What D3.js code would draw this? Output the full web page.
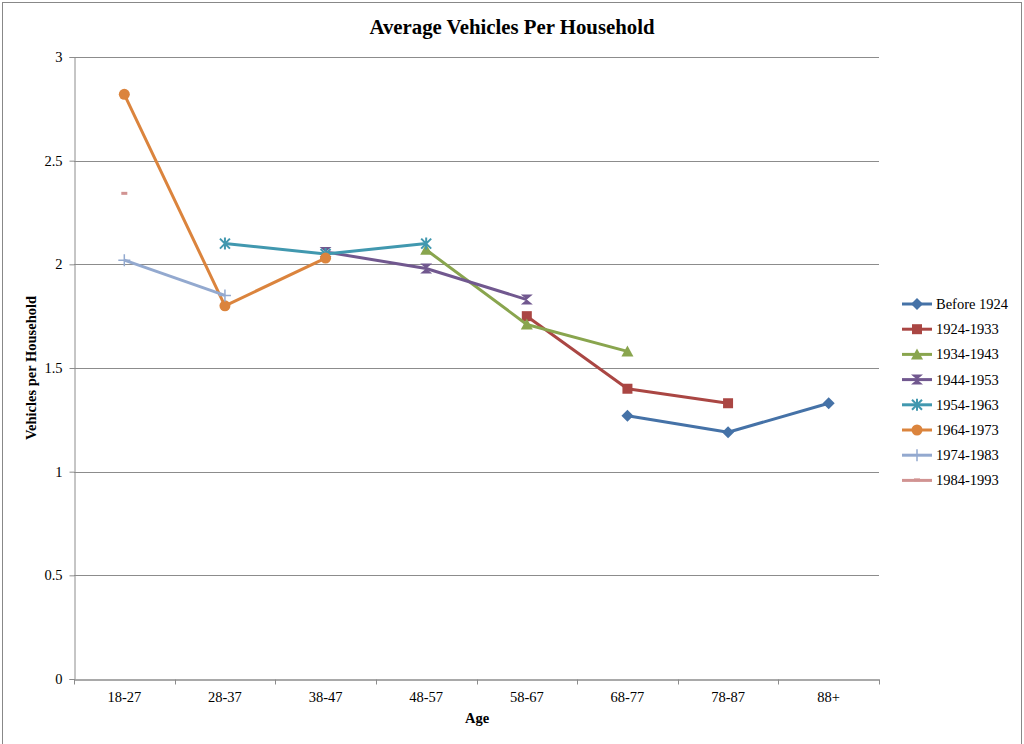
<!DOCTYPE html>
<html>
<head>
<meta charset="utf-8">
<script src="https://cdn.jsdelivr.net/npm/d3@7"></script>
<style>
  body { margin: 0; background: #fff; }
  svg { display: block; font-family: 'Liberation Serif', 'Times New Roman', serif; }
</style>
</head>
<body>
<svg id="chart" width="1024" height="744"></svg>
<script>
const ages = ['18-27', '28-37', '38-47', '48-57', '58-67', '68-77', '78-87', '88+'];
const cohorts = ['Before 1924', '1924-1933', '1934-1943', '1944-1953', '1954-1963', '1964-1973', '1974-1983', '1984-1993'];

// values per cohort, null where the cohort has no data at that age
const before1924 = [null, null, null, null, null, 1.27, 1.19, 1.33];
const c1924 = [null, null, null, null, 1.75, 1.40, 1.33, null];
const c1934 = [null, null, null, 2.07, 1.71, 1.58, null, null];
const c1944 = [null, null, 2.06, 1.98, 1.83, null, null, null];
const c1954 = [null, 2.10, 2.05, 2.10, null, null, null, null];
const c1964 = [2.82, 1.80, 2.03, null, null, null, null, null];
const c1974 = [2.02, 1.85, null, null, null, null, null, null];
const c1984 = [2.34, null, null, null, null, null, null, null];

const yTicks = [0, 0.5, 1, 1.5, 2, 2.5, 3];

const seriesValues = [before1924, c1924, c1934, c1944, c1954, c1964, c1974, c1984];
const colors = ['#4572A7', '#AA4643', '#89A54E', '#71588F', '#4198AF', '#DB843D', '#93A9CF', '#D19392'];
const markers = ['diamond', 'square', 'triangle', 'hourglass', 'star', 'circle', 'plus', 'dash'];

const margin = { left: 74, right: 145, top: 57, bottom: 65 };
const width = 1024, height = 744;
const fontSize = '14.5px';

const svg = d3.select('#chart');

// outer chart border
svg.append('rect')
    .attr('x', 2.5).attr('y', 2.5)
    .attr('width', 1019).attr('height', 760)
    .attr('fill', 'none')
    .attr('stroke', '#888');

const xScale = d3.scaleBand()
    .domain(ages)
    .range([margin.left, width - margin.right]);

const yScale = d3.scaleLinear()
    .domain([0, 3])
    .range([height - margin.bottom, margin.top]);

// gridlines
svg.append('g')
    .selectAll('line')
    .data(yTicks.filter(d => d > 0))
    .join('line')
    .attr('x1', margin.left)
    .attr('x2', width - margin.right)
    .attr('y1', d => Math.round(yScale(d)) + 0.5)
    .attr('y2', d => Math.round(yScale(d)) + 0.5)
    .attr('stroke', '#8c8c8c')
    .attr('stroke-width', 1);

// y axis
const yAxis = svg.append('g')
    .attr('transform', `translate(${margin.left + 0.5}, 0)`)
    .call(d3.axisLeft(yScale).tickValues(yTicks).tickFormat(d3.format('')).tickSize(5).tickPadding(7));
yAxis.selectAll('line, path').attr('stroke', '#8c8c8c');
yAxis.selectAll('text').style('font-size', fontSize).style('font-family', 'Liberation Serif').attr('fill', '#000');

// x axis with ticks on category boundaries
const xAxis = svg.append('g')
    .attr('transform', `translate(0, ${Math.round(yScale(0)) + 0.5})`)
    .call(d3.axisBottom(xScale).tickSize(0).tickPadding(12));
xAxis.select('.domain').attr('stroke', '#8c8c8c').attr('stroke-width', 1.5);
xAxis.selectAll('text').style('font-size', fontSize).style('font-family', 'Liberation Serif').attr('fill', '#000');
xAxis.append('g')
    .selectAll('line')
    .data(ages.map(a => xScale(a)).concat([width - margin.right]))
    .join('line')
    .attr('x1', d => Math.round(d) + 0.5)
    .attr('x2', d => Math.round(d) + 0.5)
    .attr('y1', 0)
    .attr('y2', 5)
    .attr('stroke', '#8c8c8c');

// titles
svg.append('text')
    .attr('x', 512).attr('y', 34)
    .attr('text-anchor', 'middle')
    .style('font-size', '20.8px')
    .style('font-weight', 'bold')
    .text('Average Vehicles Per Household');

svg.append('text')
    .attr('x', 477).attr('y', 723)
    .attr('text-anchor', 'middle')
    .style('font-size', fontSize)
    .style('font-weight', 'bold')
    .text('Age');

svg.append('text')
    .attr('transform', `translate(36, ${yScale(1.5)}) rotate(-90)`)
    .attr('text-anchor', 'middle')
    .style('font-size', fontSize)
    .style('font-weight', 'bold')
    .text('Vehicles per Household');

function drawMarker(g, type, color) {
    if (type === 'diamond') {
        g.append('path').attr('d', 'M0,-6L6,0L0,6L-6,0Z').attr('fill', color);
    } else if (type === 'square') {
        g.append('rect').attr('x', -5).attr('y', -5).attr('width', 10).attr('height', 10).attr('fill', color);
    } else if (type === 'triangle') {
        g.append('path').attr('d', 'M0,-6L6,5L-6,5Z').attr('fill', color);
    } else if (type === 'hourglass') {
        g.append('path').attr('d', 'M-6,-5L6,-5L-6,5L6,5Z').attr('fill', color);
    } else if (type === 'star') {
        g.append('path').attr('d', 'M-5,-5L5,5M5,-5L-5,5M0,-6L0,6')
            .attr('stroke', color).attr('stroke-width', 2).attr('fill', 'none');
    } else if (type === 'circle') {
        g.append('circle').attr('r', 5.5).attr('fill', color);
    } else if (type === 'plus') {
        g.append('path').attr('d', 'M-6,0L6,0M0,-6L0,6')
            .attr('stroke', color).attr('stroke-width', 1.5).attr('fill', 'none');
    } else if (type === 'dash') {
        g.append('rect').attr('x', -3).attr('y', -2).attr('width', 6).attr('height', 3).attr('fill', color);
    }
}

const cx = a => xScale(a) + xScale.bandwidth() / 2;

const line = d3.line()
    .defined(d => d.v !== null)
    .x(d => cx(d.age))
    .y(d => yScale(d.v));

seriesValues.forEach((vals, i) => {
    const pts = vals.map((v, j) => ({ age: ages[j], v }));
    const g = svg.append('g');
    g.append('path')
        .datum(pts)
        .attr('d', line)
        .attr('fill', 'none')
        .attr('stroke', colors[i])
        .attr('stroke-width', 3)
        .attr('stroke-linejoin', 'round');
    pts.filter(d => d.v !== null).forEach(d => {
        const m = g.append('g').attr('transform', `translate(${cx(d.age)}, ${yScale(d.v)})`);
        drawMarker(m, markers[i], colors[i]);
    });
});

// legend
const legend = svg.append('g').attr('transform', 'translate(902, 304)');
cohorts.forEach((name, i) => {
    const row = legend.append('g').attr('transform', `translate(0, ${i * 25.2})`);
    row.append('line')
        .attr('x1', 0).attr('x2', 30)
        .attr('y1', 0).attr('y2', 0)
        .attr('stroke', colors[i]).attr('stroke-width', 3);
    const m = row.append('g').attr('transform', 'translate(15, 0)');
    drawMarker(m, markers[i], colors[i]);
    row.append('text')
        .attr('x', 34).attr('y', 5)
        .style('font-size', fontSize)
        .text(name);
});
</script>
</body>
</html>
